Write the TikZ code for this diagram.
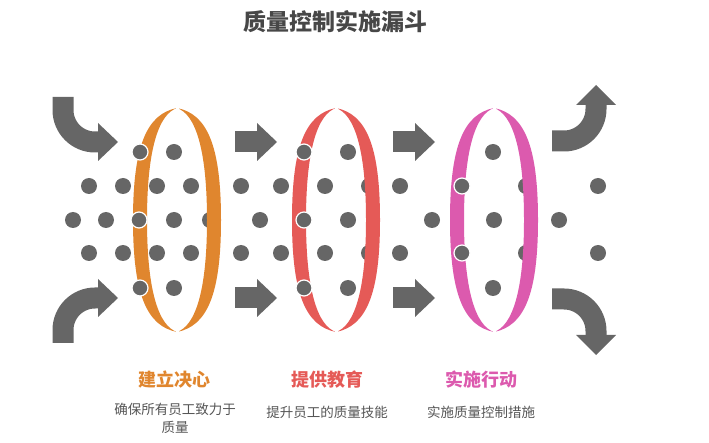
\documentclass[tikz,border=0pt]{standalone}
\usepackage{fontspec}
\newfontfamily\cjk{Noto Sans CJK SC}
\definecolor{arrowgray}{HTML}{666666}
\definecolor{ringorange}{HTML}{E0862E}
\definecolor{ringred}{HTML}{E55A57}
\definecolor{ringpink}{HTML}{DC5AAE}
\definecolor{titlegray}{HTML}{474747}
\definecolor{textgray}{HTML}{555555}
\tikzset{
        dot/.style={fill=arrowgray},
        frontdot/.style={fill=arrowgray, draw=white, line width=1.2pt},
        shaft/.style={draw=arrowgray, line width=21pt},
        head/.style={fill=arrowgray},
        gap/.style={draw=white, line width=3pt},
        heading/.style={font=\cjk\bfseries\fontsize{18}{20}\selectfont},
        caption/.style={font=\cjk\fontsize{13.5}{18}\selectfont, text=textgray, align=center},
}
\begin{document}
\begin{tikzpicture}[x=1pt, y=-1pt]
        \useasboundingbox (0,0) rectangle (709,443);
        \pgfmathsetmacro{\dotradius}{8}
        \foreach \x/\y in {174/152, 348/152, 493/152,
                89/186, 123/186, 157/186, 191/186, 241/186, 281/186, 325/186, 369/186, 400/186, 526/186, 598/186,
                73/220, 106/220, 174/220, 210/220, 260/220, 348/220, 432/220, 494/220, 559/220,
                89/253, 123/253, 157/253, 191/253, 241/253, 281/253, 325/253, 369/253, 400/253, 526/253, 598/253,
                174/288, 348/288, 493/288}{
                \fill [dot] (\x,\y) circle (\dotradius pt);
            }
        \foreach \cx/\col in {177/ringorange, 336/ringred, 494/ringpink}{
                \fill [\col, even odd rule] (\cx,108) .. controls (\cx-30,114) and (\cx-44,145) .. (\cx-44,220)
                        .. controls (\cx-44,295) and (\cx-30,326) .. (\cx,332)
                        .. controls (\cx+30,326) and (\cx+44,295) .. (\cx+44,220)
                        .. controls (\cx+44,145) and (\cx+30,114) .. cycle
                        (\cx,108) .. controls (\cx-18,114) and (\cx-30,148) .. (\cx-30,220)
                        .. controls (\cx-30,292) and (\cx-18,326) .. (\cx,332)
                        .. controls (\cx+18,326) and (\cx+30,292) .. (\cx+30,220)
                        .. controls (\cx+30,148) and (\cx+18,114) .. cycle;
                \draw [gap] (\cx,104) -- (\cx,124);
                \draw [gap] (\cx,316) -- (\cx,336);
            }
        \foreach \x/\y in {140/152, 304/152, 139/220, 304/220, 140/288, 304/288, 462/186, 462/253}{
                \draw [frontdot] (\x,\y) circle (\dotradius pt);
            }
        \draw [shaft] (63,97) -- (63,110) arc [start angle=180, end angle=270, radius=32pt] -- (99,142);
        \fill [head] (98,123) -- (118,142) -- (98,161) -- cycle;
        \draw [shaft] (63,343) -- (63,330) arc [start angle=180, end angle=90, radius=32pt] -- (99,298);
        \fill [head] (98,279) -- (118,298) -- (98,317) -- cycle;
        \foreach \x in {235, 393}{
                \foreach \y in {142, 298}{
                        \draw [shaft] (\x,\y) -- (\x+23,\y);
                        \fill [head] (\x+22,\y-19) -- (\x+42,\y) -- (\x+22,\y+19) -- cycle;
                    }
            }
        \draw [shaft] (552,141) -- (564,141) arc [start angle=-90, end angle=0, radius=32pt] -- (596,104);
        \fill [head] (576,105) -- (596,85) -- (616,105) -- cycle;
        \draw [shaft] (552,299) -- (564,299) arc [start angle=90, end angle=0, radius=32pt] -- (596,336);
        \fill [head] (576,335) -- (596,355) -- (616,335) -- cycle;
        \node [font=\cjk\bfseries\fontsize{23}{26}\selectfont, text=titlegray] (title) at (335,22) {质量控制实施漏斗};
        \node [heading, text=ringorange] (resolve) at (174,380) {建立决心};
        \node [heading, text=ringred] (educate) at (327,380) {提供教育};
        \node [heading, text=ringpink] (act) at (481,380) {实施行动};
        \node [caption] (resolvetext) at (175,418) {确保所有员工致力于\\质量};
        \node [caption] (educatetext) at (327,412) {提升员工的质量技能};
        \node [caption] (acttext) at (481,412) {实施质量控制措施};
    \end{tikzpicture}
\end{document}
